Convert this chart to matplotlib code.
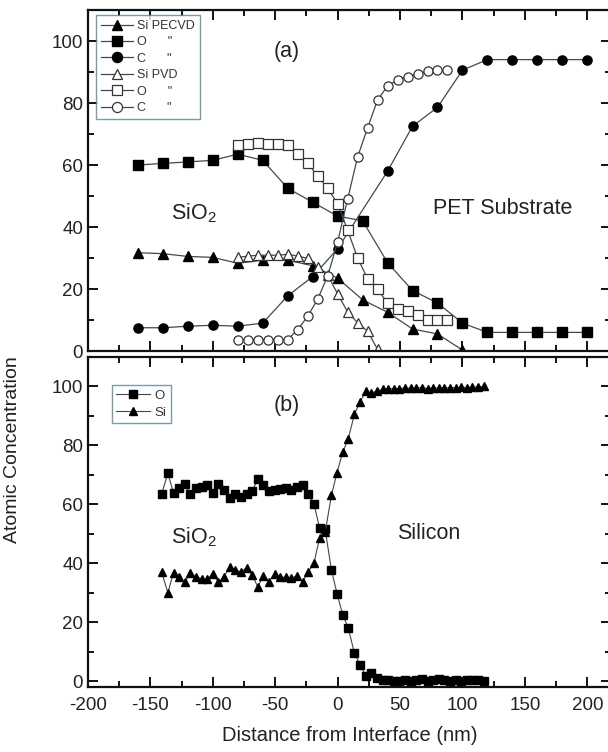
import numpy as np
import matplotlib.pyplot as plt
from matplotlib.ticker import MultipleLocator

plt.rcParams['font.family'] = ['Liberation Sans', 'DejaVu Sans']
plt.rcParams['axes.unicode_minus'] = False
plt.rcParams['mathtext.fontset'] = 'custom'
plt.rcParams['mathtext.rm'] = 'Liberation Sans'

# ---- panel (a): PECVD vs PVD on PET ----
x_pecvd = [-160, -140, -120, -100, -80, -60, -40, -20, 0, 20, 40, 60, 80, 100, 120, 140, 160, 180, 200]
o_pecvd = [60, 60.5, 61, 61.5, 63.5, 61.5, 52.5, 48, 43.5, 42, 28.5, 19.5, 15.5, 9, 6, 6, 6, 6, 6]
x_c_pecvd = [-160, -140, -120, -100, -80, -60, -40, -20, 0, 40, 60, 80, 100, 120, 140, 160, 180, 200]
c_pecvd = [7.5, 7.5, 8, 8.3, 8, 9, 17.8, 24, 33, 58, 72.5, 78.6, 90.6, 94, 94, 94, 94, 94]
x_si_pecvd = [-160, -140, -120, -100, -80, -60, -40, -20, 0, 20, 40, 60, 80, 100]
si_pecvd = [31.7, 31.4, 30.5, 30.2, 28.3, 29.3, 29.3, 27.5, 23.5, 16.5, 12.5, 7.1, 5.5, 0.3]

x_pvd = [-80, -72, -64, -56, -48, -40, -32, -24, -16, -8, 0, 8, 16, 24, 32, 40, 48, 56, 64, 72, 80, 88]
o_pvd = [66.5, 66.8, 67, 66.8, 66.8, 66.5, 63.5, 60.5, 56.5, 52.5, 47.5, 39, 30, 23.3, 20, 15.4, 13.5, 12.8, 11.5, 10.1, 9.9, 9.9]
c_pvd = [3.7, 3.7, 3.7, 3.7, 3.7, 3.7, 6.9, 11.2, 16.7, 24.2, 35.2, 49, 62.6, 72, 81, 85.5, 87.5, 88.5, 89.5, 90.2, 90.5, 90.5]
x_si_pvd = [-80, -72, -64, -56, -48, -40, -32, -24, -16, -8, 0, 8, 16, 24, 32]
si_pvd = [30.2, 30.6, 30.9, 30.9, 30.9, 31.2, 30.6, 29.9, 27, 24.5, 18.4, 12.6, 9.1, 6.4, 0.5]

# ---- panel (b): SiO2 on silicon ----
x_b = [-141, -136, -131.5, -127, -122.5, -118, -113.5, -109, -104.5, -100, -95.5, -91,
       -86.5, -82, -77.5, -73, -68.5, -64, -59.5, -55, -50.5, -46, -41.5, -37, -32.5,
       -28, -23.5, -19, -14.5, -10, -5, -0.5, 4, 8.5, 13.5, 18, 22.5, 27, 31.5, 36,
       40.5, 45, 49.5, 54, 58.5, 63, 67.5, 72, 76.5, 81, 85.5, 90, 94.5, 99, 103.5,
       108, 112.5, 117]
o_b = [63.6, 70.5, 63.8, 65.5, 66.8, 63.4, 65.7, 65.8, 66.6, 64, 66.8, 65,
       62, 63.6, 62.5, 63.5, 64.5, 68.5, 66.5, 64.5, 65, 65.2, 65.5, 64.8, 66,
       66.5, 63.5, 60.2, 52, 51.5, 37.7, 29.7, 22.6, 18, 9.4, 5.5, 1.8, 2.9, 1.2, 0.5,
       0.3, 0.2, 0.1, 0.3, 0.2, 0.5, 0.6, 0.2, 0.4, 0.8, 0.5, 0.2, 0.3, 0.2, 0.5,
       0.4, 0.3, 0.2]
si_b = [37, 30, 36.8, 35.5, 33.5, 36.8, 35.2, 34.8, 34.5, 36.5, 33.5, 35.5,
        38.8, 37.8, 37, 38.5, 36, 32, 35.8, 33.8, 36.5, 35.3, 35.2, 35, 35.8,
        33.7, 37.1, 40, 48.5, 50.5, 63, 70.8, 77.6, 82.2, 90.7, 94.7, 98.4, 97.7, 98.5, 99,
        99.2, 99.3, 99.3, 99.5, 99.4, 99.5, 99.6, 99.3, 99.5, 99.4, 99.5, 99.6, 99.6, 99.7, 99.6,
        99.8, 99.8, 100]

line_c = '#3c4a52'
txt_c = '#222222'

fig = plt.figure(figsize=(6.08, 7.52), dpi=100)
ax1 = fig.add_axes([88/608, 1-351/752, 523/608, 341/752])
ax2 = fig.add_axes([88/608, 1-687/752, 523/608, 330/752])

ms = 6.6
ax1.plot(x_si_pecvd, si_pecvd, marker='^', color=line_c, mfc='k', mec='k', ms=ms, lw=0.9, label='Si PECVD')
ax1.plot(x_pecvd, o_pecvd, marker='s', color=line_c, mfc='k', mec='k', ms=ms, lw=0.9, label='O      "')
ax1.plot(x_c_pecvd, c_pecvd, marker='o', color=line_c, mfc='k', mec='k', ms=ms, lw=0.9, label='C      "')
ax1.plot(x_si_pvd, si_pvd, marker='^', color=line_c, mfc='white', mec='#333333', ms=ms, mew=0.9, lw=0.9, label='Si PVD')
ax1.plot(x_pvd, o_pvd, marker='s', color=line_c, mfc='white', mec='#333333', ms=ms, mew=0.9, lw=0.9, label='O      "')
ax1.plot(x_pvd, c_pvd, marker='o', color=line_c, mfc='white', mec='#333333', ms=ms, mew=0.9, lw=0.9, label='C      "')

ax2.plot(x_b, o_b, marker='s', color=line_c, mfc='k', mec='k', ms=5.5, lw=0.8, label='O')
ax2.plot(x_b, si_b, marker='^', color=line_c, mfc='k', mec='k', ms=5.8, lw=0.8, label='Si')

for ax in (ax1, ax2):
    ax.set_xlim(-200, 219)
    ax.xaxis.set_major_locator(MultipleLocator(50))
    ax.xaxis.set_minor_locator(MultipleLocator(25))
    ax.yaxis.set_major_locator(MultipleLocator(20))
    ax.yaxis.set_minor_locator(MultipleLocator(10))
    ax.tick_params(which='both', direction='in', top=True, right=True, width=1.4, colors='#111111',
                   labelsize=13.5, labelcolor=txt_c)
    ax.tick_params(which='major', length=7)
    ax.tick_params(which='minor', length=4)
    ax.tick_params(axis='x', pad=7)
    for s in ax.spines.values():
        s.set_linewidth(1.6)
        s.set_color('#111111')

ax1.set_ylim(0, 110)
ax2.set_ylim(-2, 110)
ax1.tick_params(labelbottom=False)

ax1.text(-40.5, 96.5, '(a)', fontsize=15.5, color=txt_c, ha='center', va='center')
ax1.text(-115, 44.5, 'SiO$_2$', fontsize=15.5, color=txt_c, ha='center', va='center')
ax1.text(132, 46, 'PET Substrate', fontsize=15.5, color=txt_c, ha='center', va='center')
ax2.text(-40.5, 93.5, '(b)', fontsize=15.5, color=txt_c, ha='center', va='center')
ax2.text(-115, 49, 'SiO$_2$', fontsize=15.5, color=txt_c, ha='center', va='center')
ax2.text(73, 50, 'Silicon', fontsize=15.5, color=txt_c, ha='center', va='center')

leg1 = ax1.legend(loc='upper left', bbox_to_anchor=(0.015, 0.985), fontsize=9, handlelength=2.6,
                  handletextpad=0.3, labelspacing=0.35, borderpad=0.4, fancybox=False, frameon=True,
                  borderaxespad=0, markerscale=1.1)
leg1.get_frame().set_edgecolor('#5f8191')
leg1.get_frame().set_linewidth(1.0)
for t in leg1.get_texts():
    t.set_color('#333333')
leg2 = ax2.legend(loc='upper left', bbox_to_anchor=(0.045, 0.915), fontsize=9.5, handlelength=2.6,
                  handletextpad=0.3, labelspacing=0.35, borderpad=0.35, fancybox=False, frameon=True,
                  borderaxespad=0, markerscale=1.1)
leg2.get_frame().set_edgecolor('#5f8191')
leg2.get_frame().set_linewidth(1.0)
for t in leg2.get_texts():
    t.set_color('#333333')

ax2.set_xlabel('Distance from Interface (nm)', fontsize=14.5, color=txt_c, labelpad=9)
fig.text(0.02, 1-450/752, 'Atomic Concentration', rotation=90, fontsize=14, color=txt_c,
         ha='center', va='center')

fig.savefig('out.png', dpi=100)
